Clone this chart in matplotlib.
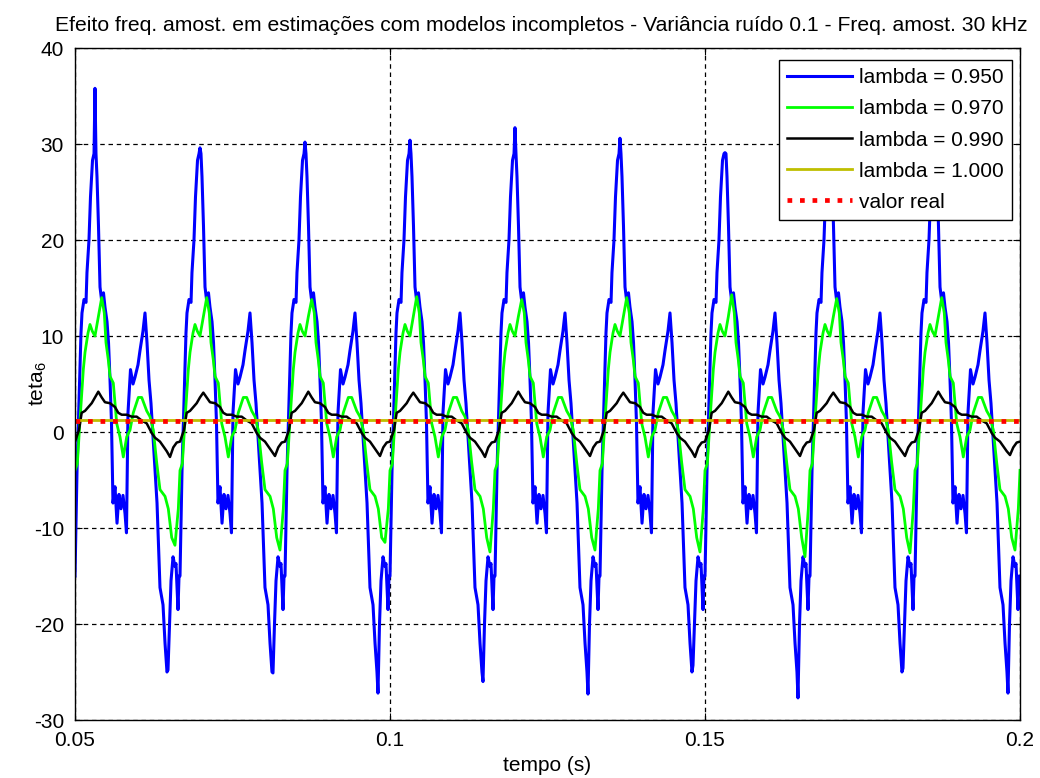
import numpy as np
import matplotlib
matplotlib.use("Agg")
import matplotlib.pyplot as plt

plt.rcParams["font.family"] = ["Liberation Sans", "DejaVu Sans"]
plt.rcParams["mathtext.fontset"] = "custom"
plt.rcParams["mathtext.rm"] = "Liberation Sans"
plt.rcParams["mathtext.it"] = "Liberation Sans"
plt.rcParams["axes.unicode_minus"] = False

T_START = 0.05
T_END = 0.2
F_GRID = 60.0      # Hz, fundamental seen in the estimates
N_CYCLES = 9

# one period of each estimate: phase (ms from start of cycle) and value
blue_phase_ms = [0.00, 0.32, 0.63, 0.95, 1.11, 1.43, 1.75, 1.90, 2.22, 2.46,
                 2.78, 3.02, 3.17, 3.33, 3.49, 3.73, 3.97, 4.21, 4.52, 4.76,
                 5.08, 5.32, 5.56, 5.79, 6.03, 6.35, 6.67, 6.98, 7.30, 7.62,
                 7.94, 8.17, 8.41, 8.81, 9.21, 9.52, 10.00, 10.32, 10.79, 11.11,
                 11.43, 11.75, 12.06, 12.38, 12.70, 13.02, 13.49, 13.97, 14.29, 14.60,
                 14.76, 15.00, 15.24, 15.56, 15.87, 16.03, 16.35, 16.51]
blue_shape = [-15.0, -4.0, 3.0, 10.3, 12.4, 13.8, 13.5, 16.6, 20.0, 24.5,
              28.3, 29.0, 30.2, 29.0, 26.6, 21.4, 15.1, 13.8, 14.5, 13.0,
              11.5, 9.3, 5.4, 1.0, -7.4, -5.7, -9.5, -6.5, -8.0, -6.6,
              -8.5, -10.5, 2.0, 6.5, 5.0, 5.7, 7.0, 8.5, 10.5, 12.4,
              9.3, 5.4, 3.0, -0.5, -4.0, -7.4, -16.2, -18.0, -22.0, -25.0,
              -27.2, -20.0, -15.5, -13.0, -14.0, -13.7, -18.5, -15.0]
blue_peaks = [35.8, 29.6, 30.2, 30.4, 31.7, 30.6, 29.1, 29.0, 29.0]
blue_troughs = [-24.8, -25.1, -27.2, -26.0, -27.3, -24.3, -27.7, -24.6, -27.2]

green_phase_ms = [0.00, 0.37, 0.79, 1.32, 1.59, 2.06, 2.38, 2.75, 3.17, 3.70,
                  4.24, 4.65, 4.92, 5.29, 5.56, 6.08, 6.62, 7.14, 7.67, 8.21,
                  8.73, 9.25, 10.05, 10.59, 11.38, 11.90, 12.43, 12.97, 13.49, 14.29,
                  14.81, 15.35, 15.87, 16.40]
green_shape = [-4.0, -3.3, 1.2, 6.5, 8.3, 10.3, 11.2, 10.5, 10.0, 12.0,
               13.8, 12.4, 9.3, 7.5, 5.8, 5.1, 0.9, -0.5, -2.6, -0.5,
               0.2, 2.0, 3.6, 3.6, 2.2, 1.6, 0.2, -3.2, -6.0, -6.7,
               -8.0, -11.0, -11.5, -8.0]
green_peaks = [14.0, 14.0, 13.8, 14.1, 13.8, 14.0, 14.3, 13.9, 14.0]
green_troughs = [-11.8, -12.3, -11.5, -12.5, -12.3, -12.5, -13.0, -12.6, -12.3]

black_phase_ms = [0.00, 0.63, 1.06, 1.59, 2.11, 2.65, 3.17, 3.70, 4.24, 4.76,
                  5.56, 6.35, 6.87, 7.41, 8.21, 9.00, 9.79, 10.59, 11.38, 12.17,
                  12.70, 13.49, 14.02, 14.56, 15.08, 15.60, 16.14]
black_shape = [-1.0, 0.2, 2.0, 2.2, 2.6, 3.0, 3.6, 4.2, 3.6, 3.1,
               3.0, 2.6, 2.0, 1.8, 1.8, 1.6, 1.6, 1.2, 0.9, -0.1,
               -0.6, -1.0, -1.5, -2.0, -2.5, -1.6, -1.1]
black_peaks = [4.2, 4.1, 4.2, 4.1, 4.2, 4.1, 4.2, 4.1, 4.2]
black_troughs = [-2.6, -2.5, -2.5, -2.6, -2.5, -2.6, -2.5, -2.5, -2.4]

yellow_t = [0.05, 0.2]
yellow_vals = [1.25, 1.25]
valor_real = 1.15

labels = ["lambda = 0.950", "lambda = 0.970", "lambda = 0.990",
          "lambda = 1.000", "valor real"]


def build(phase_ms, shape, peaks, troughs):
    shape = np.asarray(shape, float)
    i_max, i_min = shape.argmax(), shape.argmin()
    ts, ys = [], []
    for k in range(N_CYCLES):
        vals = shape.copy()
        vals[i_max] = peaks[k]
        vals[i_min] = troughs[k]
        ts.append(T_START + k / F_GRID + np.asarray(phase_ms) / 1000.0)
        ys.append(vals)
    ts.append([T_END])
    ys.append([shape[0]])
    return np.concatenate(ts), np.concatenate(ys)


fig = plt.figure(figsize=(10.4, 7.78), dpi=100)
ax = fig.add_axes([75 / 1040, 1 - 720 / 778, 945 / 1040, 672 / 778])

t_b, y_b = build(blue_phase_ms, blue_shape, blue_peaks, blue_troughs)
t_g, y_g = build(green_phase_ms, green_shape, green_peaks, green_troughs)
t_k, y_k = build(black_phase_ms, black_shape, black_peaks, black_troughs)

ax.plot(t_b, y_b, color="#0000ff", lw=2.2, label=labels[0])
ax.plot(t_g, y_g, color="#00ff00", lw=2.0, label=labels[1])
ax.plot(t_k, y_k, color="black", lw=1.8, label=labels[2])
ax.plot(yellow_t, yellow_vals, color="#bfbf00", lw=2.0, label=labels[3])
ax.plot([T_START, T_END], [valor_real, valor_real], color="red", lw=3.4,
        linestyle=(0, (1, 1.65)), label=labels[4])

ax.set_xlim(T_START, T_END)
ax.set_ylim(-30, 40)
ax.set_xticks([0.05, 0.1, 0.15, 0.2])
ax.set_xticklabels(["0.05", "0.1", "0.15", "0.2"])
ax.set_yticks(np.arange(-30, 41, 10))
ax.grid(True, color="black", linestyle=(0, (3.6, 3.0)), linewidth=0.9)
ax.tick_params(direction="in", top=True, right=True, length=5, width=0.8,
               labelsize=15, pad=8)
for s in ax.spines.values():
    s.set_linewidth(1.0)

ax.set_title("Efeito freq. amost. em estimações com modelos incompletos - "
             "Variância ruído 0.1 - Freq. amost. 30 kHz", fontsize=15.2, pad=12,
             x=(541 - 75) / 945)
ax.set_xlabel("tempo (s)", fontsize=15, labelpad=4)
ax.set_ylabel("teta$_6$", fontsize=15)
ax.yaxis.set_label_coords(-26 / 945, 0.5)

leg = ax.legend(loc="upper right", bbox_to_anchor=(1 - 8 / 945, 1 - 12 / 672),
                borderaxespad=0, fontsize=15, handlelength=3.1, handletextpad=0.35,
                labelspacing=0.58, fancybox=False, framealpha=1, edgecolor="black")
leg.get_frame().set_linewidth(1.0)

fig.savefig("out.png", dpi=100)
